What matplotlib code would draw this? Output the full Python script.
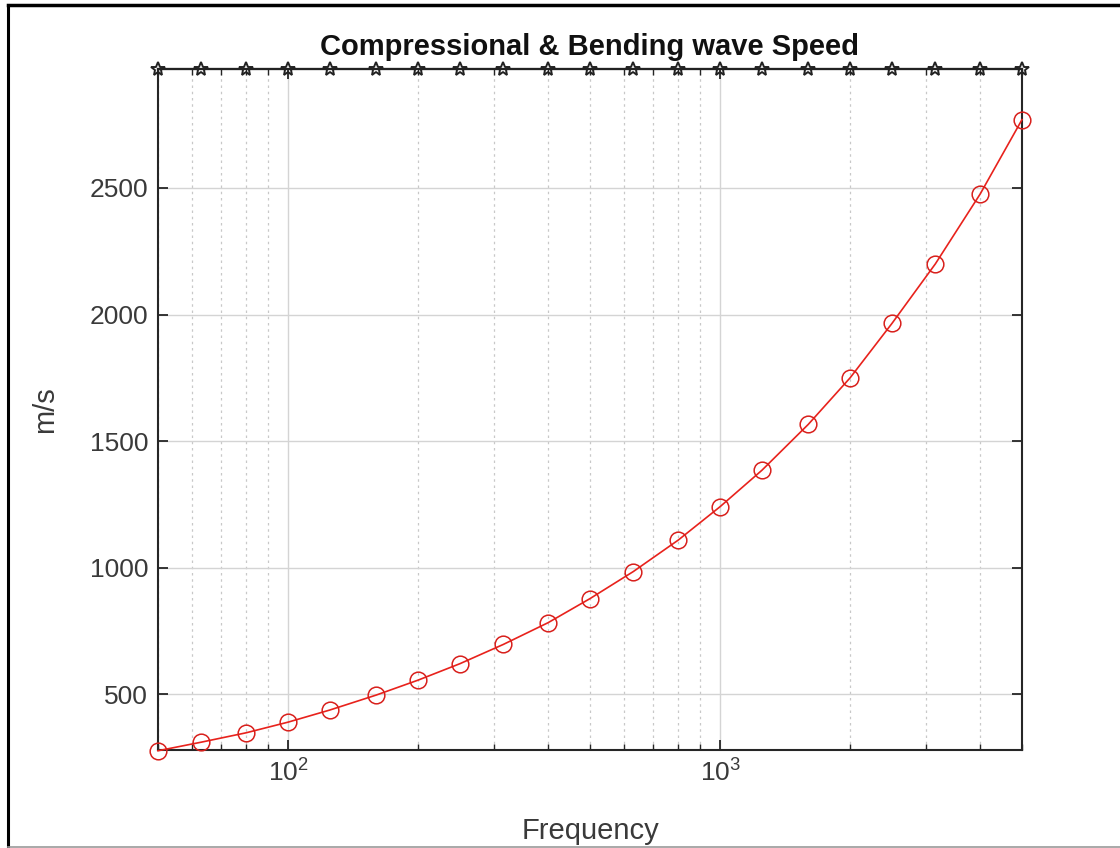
import matplotlib
matplotlib.use("Agg")
import matplotlib.pyplot as plt
from matplotlib.lines import Line2D
from matplotlib.ticker import LogLocator, NullFormatter, FixedLocator

plt.rcParams['font.family'] = ['Liberation Sans', 'DejaVu Sans']
plt.rcParams['mathtext.fontset'] = 'custom'
plt.rcParams['mathtext.rm'] = 'Liberation Sans'
plt.rcParams['mathtext.it'] = 'Liberation Sans:italic'

# Data (1/3-octave band centre frequencies)
freq = [50, 63, 80, 100, 125, 160, 200, 250, 315, 400, 500, 630,
        800, 1000, 1250, 1600, 2000, 2500, 3150, 4000, 5000]
bending_speed = [277, 311, 348, 390, 438, 497, 556, 621, 697, 783, 878, 985,
                 1109, 1241, 1385, 1566, 1750, 1965, 2200, 2476, 2770]
compressional_speed = [2970] * len(freq)
y_ticks = [500, 1000, 1500, 2000, 2500]

title = "Compressional & Bending wave Speed"
xlabel = "Frequency"
ylabel = "m/s"

fig = plt.figure(figsize=(11.2, 8.48), dpi=100)
ax = fig.add_axes([158/1120, 1 - 750/848, (1022 - 158)/1120, (750 - 69)/848])

ax.set_xscale('log')
ax.set_xlim(50, 5000)
ax.set_ylim(280, 2970)

ax.plot(freq, bending_speed, color='#e8221c', lw=1.2, marker='o', ms=12,
        mfc='none', mec='#d8201c', mew=1.1, clip_on=False, zorder=4)
ax.plot(freq, compressional_speed, color='#222222', lw=1.6, marker='*', ms=10,
        mfc='none', mec='#222222', mew=1.4, clip_on=False, zorder=5)

ax.yaxis.set_major_locator(FixedLocator(y_ticks))
ax.xaxis.set_major_locator(LogLocator(base=10))
ax.xaxis.set_minor_locator(LogLocator(base=10, subs=range(2, 10)))
ax.xaxis.set_minor_formatter(NullFormatter())

ax.grid(True, which='major', axis='both', color='#d4d4d4', lw=1.0, ls='-')
ax.grid(True, which='minor', axis='x', color='#c8c8c8', lw=0.9, ls=(0, (2, 3)))
ax.set_axisbelow(True)

for s in ax.spines.values():
    s.set_color('#262626')
    s.set_linewidth(1.5)

ax.tick_params(which='both', direction='in', top=True, right=True,
               colors='#262626', labelcolor='#3a3a3a', labelsize=19)
ax.tick_params(which='major', length=7, width=1.3, pad=7)
ax.tick_params(which='minor', length=4, width=1.0)

ax.set_title(title, fontsize=21, fontweight='bold', color='#111111', pad=10)
ax.set_xlabel(xlabel, fontsize=21, color='#3a3a3a', labelpad=22)
ax.set_ylabel(ylabel, fontsize=21, color='#3a3a3a', labelpad=22)

# figure frame lines
fig.add_artist(Line2D([8/1120, 1], [1 - 5/848, 1 - 5/848], transform=fig.transFigure,
                      color='black', lw=2.5))
fig.add_artist(Line2D([8/1120, 8/1120], [0, 1 - 5/848], transform=fig.transFigure,
                      color='black', lw=2.2))
fig.add_artist(Line2D([8/1120, 1], [1.5/848, 1.5/848], transform=fig.transFigure,
                      color='#999999', lw=1.2))

fig.savefig('out.png', dpi=100)
